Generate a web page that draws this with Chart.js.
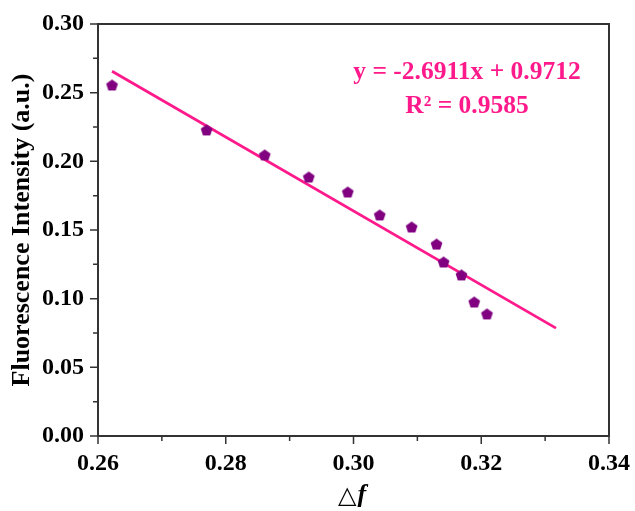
<!DOCTYPE html>
<html>
<head>
<meta charset="utf-8">
<script src="https://cdn.jsdelivr.net/npm/chart.js@4.4.1/dist/chart.umd.min.js"></script>
<style>
  html, body { margin: 0; padding: 0; background: #fff; }
  #wrap { width: 635px; height: 511px; position: relative; }
</style>
</head>
<body>
<div id="wrap"><canvas id="myChart" width="635" height="511"></canvas></div>
<script>
// datos medidos: polaridad (delta f) vs intensidad de fluorescencia
const deltaF = [0.2622, 0.2770, 0.2861, 0.2930, 0.2991, 0.3041, 0.3091, 0.3130, 0.3141, 0.3169, 0.3189, 0.3209];
const intensidad = [0.2556, 0.2229, 0.2047, 0.1886, 0.1777, 0.1610, 0.1522, 0.1398, 0.1267, 0.1173, 0.0976, 0.0889];

// ajuste lineal y = a*x + b
const pendiente = -2.6911;
const intercepto = 0.9712;
const r2 = 0.9585;
const rangoAjuste = [0.2622, 0.3317];

// marcas de los ejes
const ticksX = [0.26, 0.28, 0.30, 0.32, 0.34];
const ticksY = [0.00, 0.05, 0.10, 0.15, 0.20, 0.25, 0.30];

const fuente = "'Liberation Serif', 'Times New Roman', serif";
const rosa = "#ff1a8c";
const morado = "#800080";

// pentagono para los puntos
function pentagono(r, color){
    const c = document.createElement("canvas");
    const s = Math.ceil(r * 2 + 2);
    c.width = s; c.height = s;
    const g = c.getContext("2d");
    g.fillStyle = color;
    g.beginPath();
    for(let i = 0; i < 5; i++){
        const a = -Math.PI / 2 + i * 2 * Math.PI / 5;
        const px = s / 2 + r * Math.cos(a);
        const py = s / 2 + 0.6 + r * Math.sin(a);
        if(i === 0) g.moveTo(px, py); else g.lineTo(px, py);
    }
    g.closePath();
    g.fill();
    return c;
}

const lineaAjuste = rangoAjuste.map(x => ({x: x, y: pendiente * x + intercepto}));

// marco, ticks mayores/menores y textos
const extras = {
    id: "extras",
    beforeDatasetsDraw(chart){
        const {ctx, chartArea: a, scales} = chart;
        ctx.save();
        ctx.strokeStyle = "#333";
        ctx.lineWidth = 2;
        ctx.strokeRect(a.left, a.top, a.right - a.left, a.bottom - a.top);
        ctx.lineWidth = 1.5;
        ctx.beginPath();
        for(let i = 0; i < ticksX.length; i++){
            const px = scales.x.getPixelForValue(ticksX[i]);
            ctx.moveTo(px, a.bottom); ctx.lineTo(px, a.bottom + 8);
            if(i < ticksX.length - 1){
                const pm = scales.x.getPixelForValue((ticksX[i] + ticksX[i + 1]) / 2);
                ctx.moveTo(pm, a.bottom); ctx.lineTo(pm, a.bottom + 5);
            }
        }
        for(let i = 0; i < ticksY.length; i++){
            const py = scales.y.getPixelForValue(ticksY[i]);
            ctx.moveTo(a.left, py); ctx.lineTo(a.left - 8, py);
            if(i < ticksY.length - 1){
                const pm = scales.y.getPixelForValue((ticksY[i] + ticksY[i + 1]) / 2);
                ctx.moveTo(a.left, pm); ctx.lineTo(a.left - 5, pm);
            }
        }
        ctx.stroke();
        ctx.restore();
    },
    afterDraw(chart){
        const {ctx} = chart;
        ctx.save();
        ctx.fillStyle = rosa;
        ctx.textAlign = "center";
        ctx.textBaseline = "middle";
        ctx.font = "bold 25.5px " + fuente;
        ctx.fillText("y = " + pendiente.toFixed(4) + "x + " + intercepto.toFixed(4), 467, 72);
        ctx.fillText("R² = " + r2.toFixed(4), 467, 106);

        // titulo eje x: triangulo + f italica
        ctx.fillStyle = "#000";
        ctx.textAlign = "left";
        ctx.font = "24px 'DejaVu Sans', sans-serif";
        const t1 = "△";
        const w1 = ctx.measureText(t1).width;
        const x0 = 338;
        ctx.fillText(t1, x0, 497);
        ctx.font = "italic bold 26px " + fuente;
        ctx.fillText("f", x0 + w1 + 1, 495);
        ctx.restore();
    }
};

new Chart(document.getElementById("myChart"), {
    type: "scatter",
    data: {
        datasets: [
            {
                label: "Datos",
                data: deltaF.map((x, i) => ({x: x, y: intensidad[i]})),
                pointStyle: pentagono(6.2, morado),
                pointRadius: 7,
                backgroundColor: morado,
                borderColor: morado,
                order: 1
            },
            {
                label: "Ajuste",
                type: "line",
                data: lineaAjuste,
                borderColor: rosa,
                borderWidth: 2.8,
                pointRadius: 0,
                fill: false,
                order: 2
            }
        ]
    },
    options: {
        responsive: false,
        animation: false,
        layout: { padding: { left: 0, top: 24, right: 25, bottom: 0 } },
        plugins: { legend: { display: false }, tooltip: { enabled: false } },
        scales: {
            x: {
                type: "linear",
                min: ticksX[0],
                max: ticksX[ticksX.length - 1],
                afterBuildTicks: s => { s.ticks = ticksX.map(v => ({value: v})); },
                afterFit: s => { s.height = 75; },
                grid: { display: false },
                border: { display: false },
                ticks: {
                    color: "#000",
                    padding: 5,
                    maxRotation: 0,
                    font: { family: fuente, size: 24, weight: "bold" },
                    callback: v => v.toFixed(2)
                }
            },
            y: {
                type: "linear",
                min: ticksY[0],
                max: ticksY[ticksY.length - 1],
                afterBuildTicks: s => { s.ticks = ticksY.map(v => ({value: v})); },
                afterFit: s => { s.width = 98; },
                grid: { display: false },
                border: { display: false },
                ticks: {
                    color: "#000",
                    padding: 6,
                    font: { family: fuente, size: 24, weight: "bold" },
                    callback: v => v.toFixed(2)
                },
                title: {
                    display: true,
                    text: "Fluorescence Intensity (a.u.)",
                    color: "#000",
                    padding: { top: 7, bottom: 0 },
                    font: { family: fuente, size: 26, weight: "bold" }
                }
            }
        }
    },
    plugins: [extras]
});
</script>
</body>
</html>
